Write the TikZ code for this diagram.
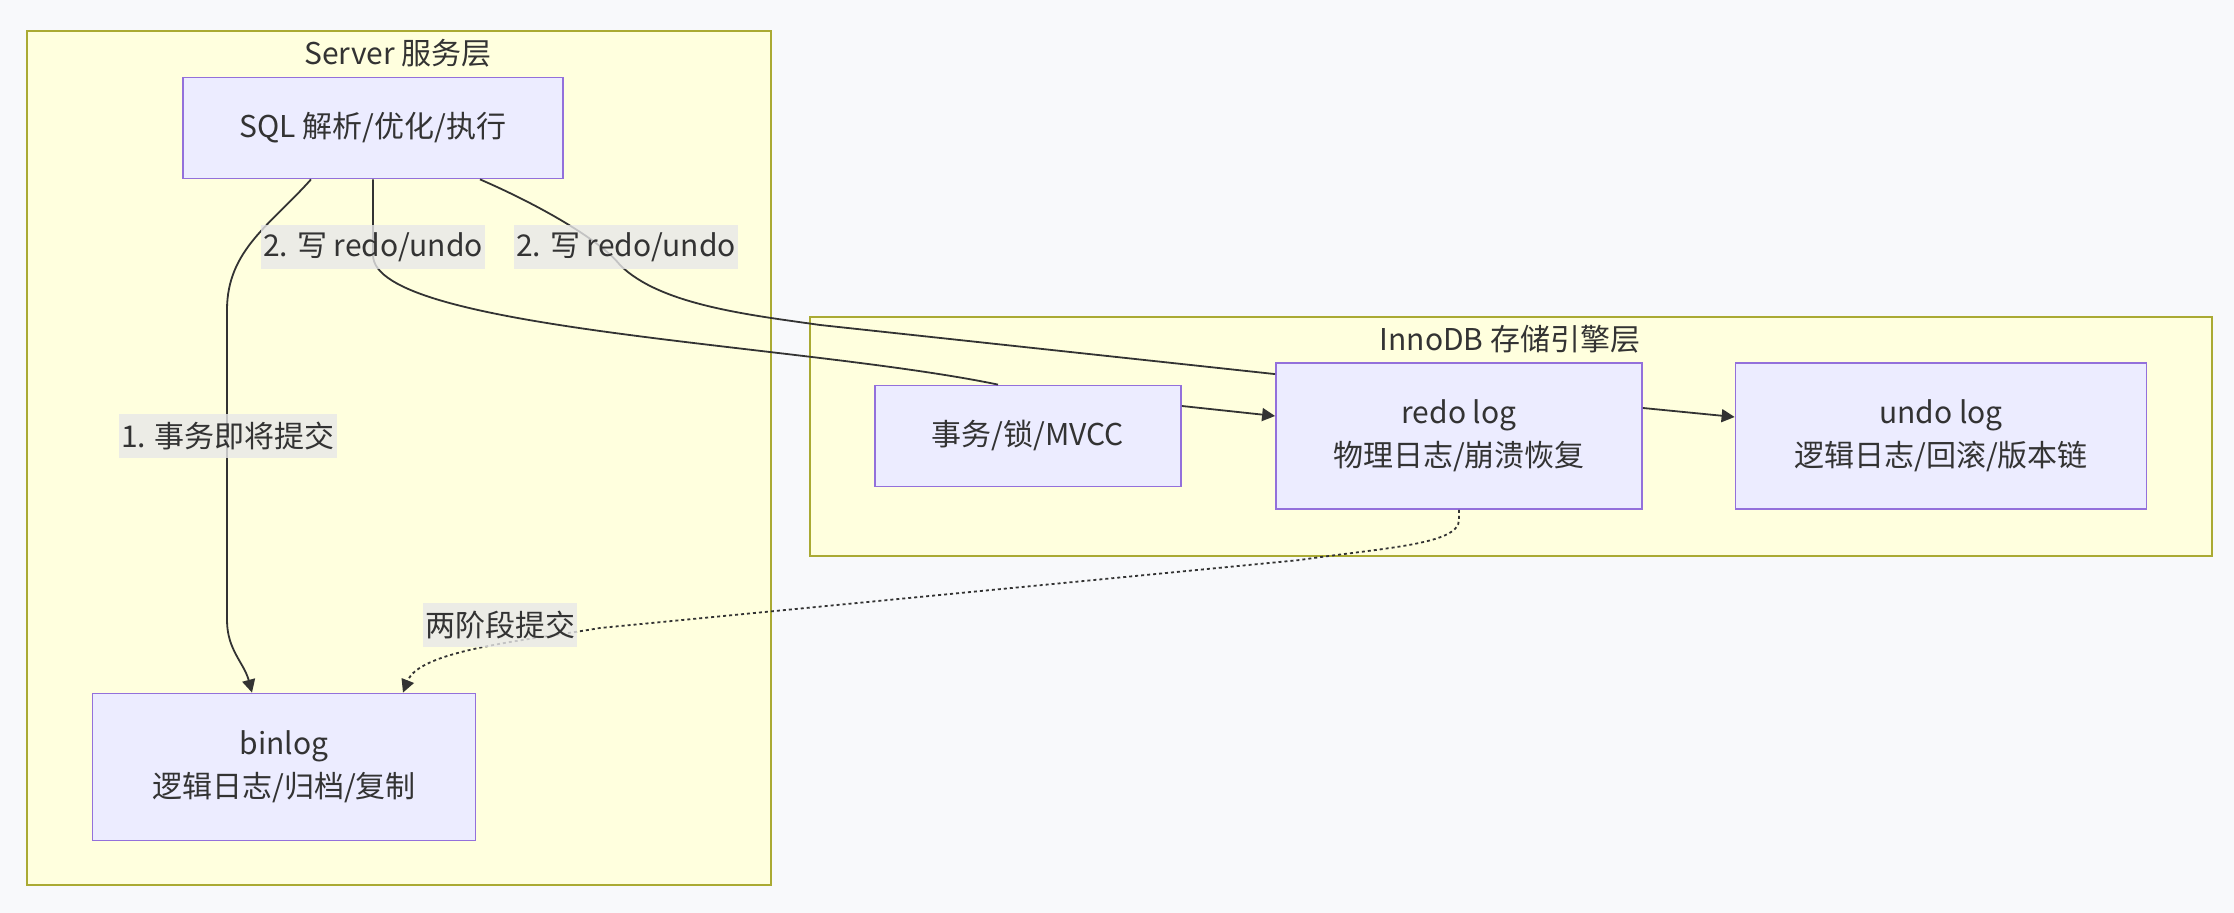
\documentclass[tikz,border=0pt]{standalone}
\usepackage{fontspec}
\setmainfont{Noto Sans CJK SC}
\usetikzlibrary{arrows.meta}
\definecolor{bgcol}{HTML}{F8F9FB}
\definecolor{clusterfill}{HTML}{FFFFDE}
\definecolor{clusterline}{HTML}{AAAA33}
\definecolor{nodefill}{HTML}{ECECFF}
\definecolor{nodeline}{HTML}{9370DB}
\definecolor{labelfill}{HTML}{E8E8E8}
\definecolor{textcol}{HTML}{333333}

\begin{document}
\begin{tikzpicture}[x=0.5pt, y=-0.5pt, font=\fontsize{15}{21.5}\selectfont, text=textcol,
	cluster/.style={draw=clusterline, fill=clusterfill, line width=0.8pt, inner sep=0pt},
	box/.style={draw=nodeline, fill=nodefill, line width=0.9pt, align=center, inner sep=0pt},
	lbl/.style={fill=labelfill, fill opacity=0.8, text opacity=1, inner xsep=1pt, inner ysep=0pt, minimum height=22pt},
	link/.style={draw=textcol, line width=0.9pt},
	arr/.style={-{Triangle[length=6.5pt, width=6.5pt]}}]
	
	% Nền
	\fill[bgcol] (0,0) rectangle (2234,913);
	
	% Server 服务层
	\node[cluster, minimum width=372pt, minimum height=427pt] (server) at (399,458) {};
	\node (serverTitle) at (398,53) {Server 服务层};
	\node[box, minimum width=190pt, minimum height=50.5pt] (sql) at (373,128) {SQL 解析/优化/执行};
	\node[box, minimum width=191.5pt, minimum height=73.5pt] (binlog) at (284,767) {binlog\\逻辑日志/归档/复制};
	
	% InnoDB 存储引擎层
	\node[cluster, minimum width=701pt, minimum height=119.5pt] (innodb) at (1511,436.5) {};
	\node (innodbTitle) at (1510,339) {InnoDB 存储引擎层};
	\node[box, minimum width=153pt, minimum height=50.5pt] (txn) at (1028,436) {事务/锁/MVCC};
	\node[box, minimum width=183pt, minimum height=73pt] (redo) at (1459,436) {redo log\\物理日志/崩溃恢复};
	\node[box, minimum width=205.5pt, minimum height=73pt] (undo) at (1941,436) {undo log\\逻辑日志/回滚/版本链};
	
	% Cạnh
	\draw[link, arr] ([xshift=-31pt]sql.south) .. controls +(-40,45) and +(0,-60) .. (227,310) -- (227,620) .. controls +(0,30) and +(-8,-30) .. ([xshift=-16pt]binlog.north);
	\draw[link] (sql.south) -- (373,255) .. controls +(0,75) and +(-198,-41) .. ([xshift=-15pt]txn.north);
	\draw[link] ([xshift=53.5pt]sql.south) .. controls +(60,26) and +(-20,-25) .. (620,265) .. controls +(40,40) and +(-70,-10) .. (820,325) -- ([yshift=-6pt]redo.north west);
	\draw[link, arr] ([yshift=15pt]txn.east) -- ([yshift=10pt]redo.west);
	\draw[link, arr] ([yshift=14pt]redo.east) -- ([yshift=9.5pt]undo.west);
	\draw[link, arr, dash pattern=on 1.5pt off 1.5pt] (redo.south) -- (1459,520) .. controls +(0,25) and +(80,-12) .. (1300,560) -- (600,628) .. controls +(-70,12) and +(17,-43) .. ([xshift=59.5pt]binlog.north);
	
	% Nhãn
	\node[lbl] (write1) at (373,247) {2. 写 redo/undo};
	\node[lbl] (write2) at (626,247) {2. 写 redo/undo};
	\node[lbl] (commit) at (228,436) {1. 事务即将提交};
	\node[lbl] (twoPhase) at (500,625) {两阶段提交};
\end{tikzpicture}
\end{document}
